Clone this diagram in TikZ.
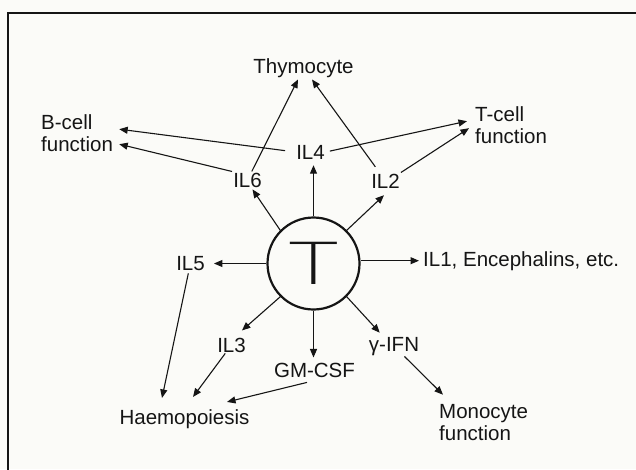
\documentclass[tikz,border=0pt]{standalone}
\usepackage{fontspec}
\setmainfont{Liberation Sans}
\newfontfamily\thinfont{DejaVuSans-ExtraLight.ttf}
\usepackage{xcolor}
\usetikzlibrary{arrows.meta}
\definecolor{paperbg}{HTML}{FBFBF8}
\definecolor{inkblack}{HTML}{151515}
\tikzset{
  lbl/.style={inner sep=1pt, text=inkblack, font=\fontsize{20.5}{22}\selectfont},
  arr/.style={draw=inkblack, line width=1.1pt, -{Triangle[length=8.5pt,width=7pt]}}
}

\begin{document}
\begin{tikzpicture}[x=1pt, y=-1pt]
    \fill[paperbg] (0,0) rectangle (636,469);
    \useasboundingbox (0,0) rectangle (636,469);
    \draw[inkblack, line width=2.2pt] (640,13) -| (8,473);

    \node[circle, draw=inkblack, line width=2.2pt, minimum size=92pt, inner sep=0pt, text=inkblack]
      (tcore) at (313.5,263.5) {\thinfont\fontsize{58}{58}\selectfont\scalebox{1.43}[1]{T}};

    \node[lbl, anchor=base] (thymo) at (303.5,73) {Thymocyte};
    \node[lbl, anchor=base west, align=left] (bcell) at (40,151) {B-cell\\function};
    \node[lbl, anchor=base west, align=left] (tcell) at (474,143) {T-cell\\function};
    \node[lbl, anchor=base] (il4) at (310.5,159) {IL4};
    \node[lbl, anchor=base] (il6) at (247.5,187) {IL6};
    \node[lbl, anchor=base] (il2) at (385.5,188) {IL2};
    \node[lbl, anchor=base] (il5) at (190.5,270) {IL5};
    \node[lbl, anchor=base west] (il1) at (422,266) {IL1, Encephalins, etc.};
    \node[lbl, anchor=base] (il3) at (231.5,352) {IL3};
    \node[lbl, anchor=base] (gmcsf) at (314.5,377) {GM-CSF};
    \node[lbl, anchor=base] (ifn) at (394,351) {γ-IFN};
    \node[lbl, anchor=base] (haemo) at (184.5,424) {Haemopoiesis};
    \node[lbl, anchor=base west, align=left] (mono) at (438,440) {Monocyte\\function};

    \draw[arr] (tcore.135) -- ([shift={(5,1)}]il6.south);
    \draw[arr, shorten >=5pt] (tcore.north) -- (tcore.north |- il4.south);
    \draw[arr] (tcore.45) -- ([shift={(-1.5,6)}]il2.south);
    \draw[arr, shorten >=8pt] (tcore.west) -- (tcore.west -| il5.east);
    \draw[arr, shorten >=3pt] (tcore.east |- il1.west) -- (il1.west);
    \draw[arr] (tcore.225) -- ([shift={(-5,-6)}]il3.north east);
    \draw[arr, shorten >=4pt] (tcore.south) -- (tcore.south |- gmcsf.north);
    \draw[arr] (tcore.315) -- ([shift={(12,-3)}]ifn.north west);

    \draw[arr] (il6.north west) -- ([shift={(5,11.5)}]bcell.east);
    \draw[arr] (il6) -- ([shift={(-5.5,1)}]thymo.south);
    \draw[arr, shorten <=10pt] (il4.west) -- ([shift={(5,-3.5)}]bcell.east);
    \draw[arr, shorten <=4pt] (il4.east) -- ([shift={(-7,-3.5)}]tcell.west);
    \draw[arr, shorten <=7pt] (il2) -- ([shift={(8.5,1)}]thymo.south);
    \draw[arr] (il2.north east) -- ([shift={(-5,3.5)}]tcell.west);

    \draw[arr, shorten <=2pt] (il5) -- ([shift={(-22.5,-10)}]haemo.north);
    \draw[arr] (il3) -- ([shift={(8.5,-11)}]haemo.north);
    \draw[arr] ([shift={(-7.5,4)}]gmcsf.south) -- ([shift={(42.5,-6)}]haemo.north);
    \draw[arr] (ifn) -- ([shift={(5,-8)}]mono.north west);
\end{tikzpicture}
\end{document}
